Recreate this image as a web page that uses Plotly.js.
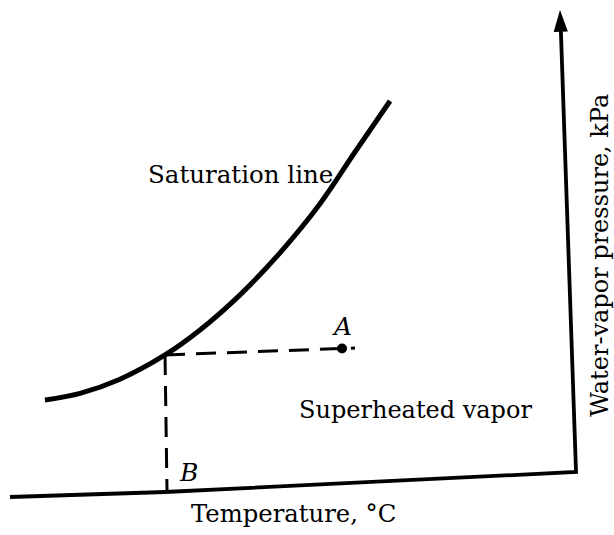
<!DOCTYPE html>
<html>
<head>
<meta charset="utf-8">
<script src="https://cdn.plot.ly/plotly-3.0.1.min.js"></script>
<style>html,body{margin:0;padding:0;background:#fff;}#chart{width:614px;height:535px;}</style>
</head>
<body>
<div id="chart"></div>
<script>
// Schematic values (arbitrary temperature / pressure units)
var satT = [6.18, 12.37, 19.43, 27.39, 33.57, 40.64, 47.70, 54.77, 60.95, 67.14];
var satP = [18.75, 20.13, 23.08, 28.13, 33.33, 40.65, 49.42, 59.65, 70.42, 81.04];
var isobarT = [27.39, 60.95];
var isobarP = [28.13, 29.58];
var isothermT = [27.39, 27.74];
var isothermP = [28.13, -0.42];
var pointA_T = [58.66];
var pointA_P = [29.48];
// frame: x-axis (left end, foot of B, corner) then y-axis shaft
var frameT = [0, 27.4, 100, 97.26];
var frameP = [-1.46, -0.42, 3.75, 97.9];
var arrowTipT = [97.17];
var arrowTipP = [100];

var labelText = ["Saturation line", "A", "Superheated vapor", "B", "Temperature, °C", "Water-vapor pressure, kPa"];
var labelT = [40.64, 58.66, 50.71, 31.45, 50.0, 104.3];
var labelP = [65.83, 34.06, 16.67, 3.65, -4.9, 14.8];

var serif = "DejaVu Serif, Liberation Serif, serif";

var traces = [
  {x: frameT, y: frameP, mode: "lines", line: {color: "#000", width: 3.8}, hoverinfo: "skip"},
  {x: arrowTipT, y: arrowTipP, mode: "markers", marker: {symbol: "arrow", size: 23, angle: -2, color: "#000", line: {width: 0}}, hoverinfo: "skip"},
  {x: satT, y: satP, mode: "lines", line: {color: "#000", width: 5, shape: "spline", smoothing: 1}, hoverinfo: "skip"},
  {x: isobarT, y: isobarP, mode: "lines", line: {color: "#000", width: 3, dash: "20px,11px"}, hoverinfo: "skip"},
  {x: isothermT, y: isothermP, mode: "lines", line: {color: "#000", width: 3, dash: "20px,11px"}, hoverinfo: "skip"},
  {x: pointA_T, y: pointA_P, mode: "markers", marker: {color: "#000", size: 10}, hoverinfo: "skip"}
];

var f = function (s) { return {family: serif, size: s, color: "#000"}; };
var annotations = [
  {x: labelT[0], y: labelP[0], xref: "x", yref: "y", text: labelText[0], showarrow: false,
   xanchor: "center", yanchor: "middle", font: f(24.5)},
  {x: labelT[1], y: labelP[1], xref: "x", yref: "y", text: "<i>" + labelText[1] + "</i>", showarrow: false,
   xanchor: "center", yanchor: "middle", font: f(25)},
  {x: labelT[2], y: labelP[2], xref: "x", yref: "y", text: labelText[2], showarrow: false,
   xanchor: "left", yanchor: "middle", font: f(24)},
  {x: labelT[3], y: labelP[3], xref: "x", yref: "y", text: "<i>" + labelText[3] + "</i>", showarrow: false,
   xanchor: "center", yanchor: "middle", font: f(25)},
  {x: labelT[4], y: labelP[4], xref: "x", yref: "y", text: labelText[4], showarrow: false,
   xanchor: "center", yanchor: "middle", font: f(24.3)},
  {x: labelT[5], y: labelP[5], xref: "x", yref: "y", text: labelText[5], showarrow: false, textangle: -90,
   xanchor: "center", yanchor: "bottom", font: f(24)}
];

var layout = {
  width: 614, height: 535,
  margin: {l: 0, r: 0, t: 0, b: 0, pad: 0},
  paper_bgcolor: "#fff", plot_bgcolor: "#fff",
  showlegend: false,
  xaxis: {range: [-1.767, 106.71], visible: false, fixedrange: true},
  yaxis: {range: [-9.375, 102.083], visible: false, fixedrange: true},
  annotations: annotations
};

Plotly.newPlot("chart", traces, layout, {displayModeBar: false, staticPlot: true});
</script>
</body>
</html>
